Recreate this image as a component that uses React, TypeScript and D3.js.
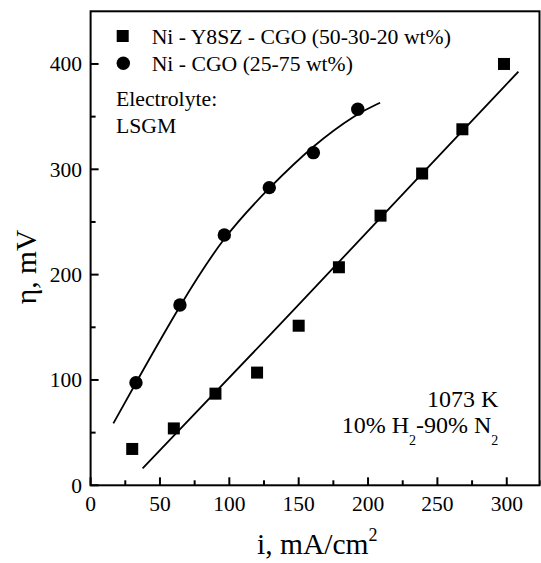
import React from "react";
import * as d3 from "d3";

// Data
const squareX = [30, 60, 90, 120, 150, 179, 209, 239, 268, 298];
const squareY = [34.5, 54, 87, 107, 151.5, 207, 256, 296, 338, 400];
const circleX = [32.7, 64.4, 96.4, 128.8, 160.6, 192.6];
const circleY = [97.4, 171.2, 237.6, 282.6, 315.8, 357];

// Fit curves
const fitSquareX = [37.5, 150, 239, 308.4];
const fitSquareY = [16, 171, 296, 392.7];
const fitCircleX = [16.4, 32.7, 64.4, 96.4, 128.8, 160.6, 192.3, 208.7];
const fitCircleY = [58.8, 97.4, 171.2, 237.6, 282.5, 323.1, 353.2, 363.2];

const xMajor = [0, 50, 100, 150, 200, 250, 300];
const xMinor = [25, 75, 125, 175, 225, 275, 325];
const yMajor = [0, 100, 200, 300, 400];
const yMinor = [50, 150, 250, 350];

const legendLabels = ["Ni - Y8SZ - CGO (50-30-20 wt%)", "Ni - CGO (25-75 wt%)"];

const FONT = "'Liberation Serif', 'Times New Roman', serif";

export default function App() {
  const W = 541;
  const H = 563;
  const left = 90.6;
  const right = 539.5;
  const top = 11.3;
  const bottom = 485.3;

  const x = d3.scaleLinear().domain([0, 323.6]).range([left, right]);
  const y = d3.scaleLinear().domain([0, 450]).range([bottom, top]);

  const sqLine = d3
    .line<[number, number]>()
    .x((d) => x(d[0]))
    .y((d) => y(d[1]))
    .curve(d3.curveBasis);
  const ciLine = d3
    .line<[number, number]>()
    .x((d) => x(d[0]))
    .y((d) => y(d[1]))
    .curve(d3.curveBasis);

  const sqFit: [number, number][] = fitSquareX.map((v, i) => [v, fitSquareY[i]]);
  const ciFit: [number, number][] = fitCircleX.map((v, i) => [v, fitCircleY[i]]);

  const sq = 12;
  const cr = 6.7;

  return (
    <svg
      width={W}
      height={H}
      style={{ position: "absolute", left: 0, top: 0, background: "#fff", fontFamily: FONT }}
    >
      <rect x={0} y={0} width={W} height={H} fill="#fff" />
      {/* fit lines */}
      <path d={sqLine(sqFit) || ""} fill="none" stroke="#000" strokeWidth={1.8} />
      <path d={ciLine(ciFit) || ""} fill="none" stroke="#000" strokeWidth={1.8} />

      {/* markers */}
      {squareX.map((v, i) => (
        <rect key={"s" + i} x={x(v) - sq / 2} y={y(squareY[i]) - sq / 2} width={sq} height={sq} fill="#000" />
      ))}
      {circleX.map((v, i) => (
        <circle key={"c" + i} cx={x(v)} cy={y(circleY[i])} r={cr} fill="#000" />
      ))}

      {/* frame */}
      <rect x={left} y={top} width={right - left} height={bottom - top} fill="none" stroke="#000" strokeWidth={2} />

      {/* x ticks */}
      {xMajor.map((v) => (
        <g key={"xm" + v}>
          <line x1={x(v)} x2={x(v)} y1={bottom} y2={bottom - 8} stroke="#000" strokeWidth={2} />
          <text x={x(v)} y={511} textAnchor="middle" fontSize={21.5}>
            {v}
          </text>
        </g>
      ))}
      {xMinor.map((v) => (
        <line key={"xn" + v} x1={x(v)} x2={x(v)} y1={bottom} y2={bottom - 5} stroke="#000" strokeWidth={2} />
      ))}
      {/* y ticks */}
      {yMajor.map((v) => (
        <g key={"ym" + v}>
          <line x1={left} x2={left + 8} y1={y(v)} y2={y(v)} stroke="#000" strokeWidth={2} />
          <text x={82} y={y(v) + 7.5} textAnchor="end" fontSize={21.5}>
            {v}
          </text>
        </g>
      ))}
      {yMinor.map((v) => (
        <line key={"yn" + v} x1={left} x2={left + 5} y1={y(v)} y2={y(v)} stroke="#000" strokeWidth={2} />
      ))}

      {/* axis labels */}
      <text x={257} y={553.5} fontSize={29.5}>
        i, mA/cm
        <tspan fontSize={18} dy={-13}>2</tspan>
      </text>
      <text transform="translate(36,267) rotate(-90)" textAnchor="middle" fontSize={29.5}>
        η, mV
      </text>

      {/* legend */}
      <rect x={122.7 - sq / 2} y={36 - sq / 2} width={sq} height={sq} fill="#000" />
      <text x={151.7} y={43.5} fontSize={21.7}>
        {legendLabels[0]}
      </text>
      <circle cx={123.3} cy={63.3} r={cr} fill="#000" />
      <text x={151.7} y={71} fontSize={21.7}>
        {legendLabels[1]}
      </text>

      {/* annotations */}
      <text x={116} y={106} fontSize={21.7}>
        Electrolyte:
      </text>
      <text x={116} y={132.7} fontSize={21.7}>
        LSGM
      </text>
      <text x={427} y={406.5} fontSize={24}>
        1073 K
      </text>
      <text x={341.7} y={433.3} fontSize={24}>
        10% H
        <tspan fontSize={14} dy={12}>2</tspan>
        <tspan dy={-12}>-90% N</tspan>
        <tspan fontSize={14} dy={12}>2</tspan>
      </text>
    </svg>
  );
}
